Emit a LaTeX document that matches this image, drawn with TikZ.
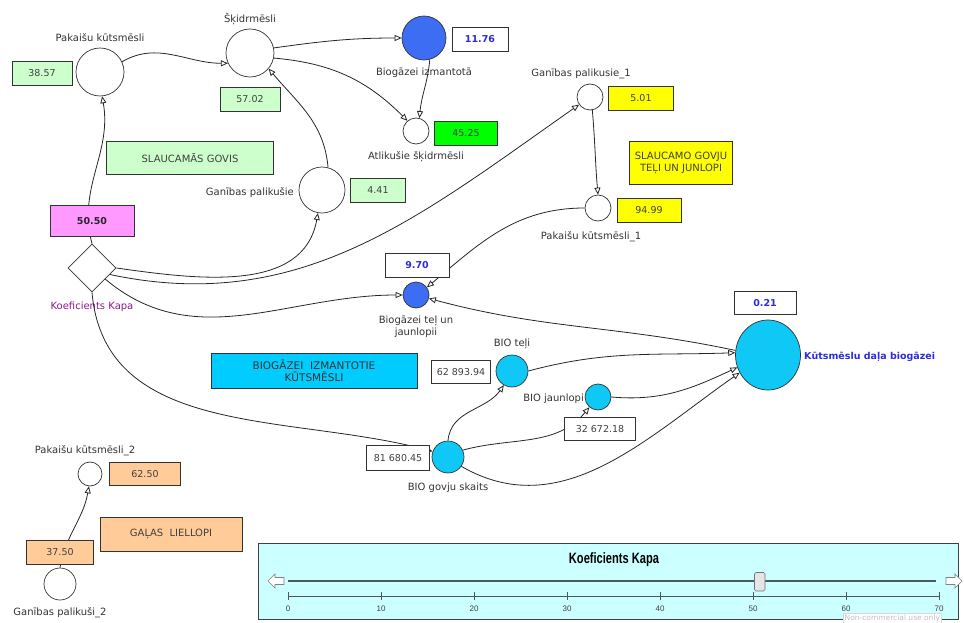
\documentclass[tikz,border=0pt]{standalone}
\usepackage{fontspec}
\setmainfont{DejaVu Sans}
\newfontfamily\panelfont{Liberation Sans}
\usepackage{tikz}
\usetikzlibrary{positioning,arrows.meta,shapes.geometric}
\definecolor{palegrn}{HTML}{CCFFCC}
\definecolor{limegrn}{HTML}{00FF00}
\definecolor{yel}{HTML}{FFFF00}
\definecolor{pinkbox}{HTML}{FF99FF}
\definecolor{peach}{HTML}{FFCC99}
\definecolor{cyanbox}{HTML}{00CCFF}
\definecolor{biocyan}{HTML}{10C8F5}
\definecolor{royal}{HTML}{3D6DF2}
\definecolor{valblue}{HTML}{2B2BE0}
\definecolor{kapapurple}{HTML}{8B1A8B}
\definecolor{panelbg}{HTML}{CCFFFF}
\definecolor{slidergray}{HTML}{4A5A5A}

\begin{document}
\begin{tikzpicture}[x=1pt,y=1pt,
	pool/.style={circle,draw=black!80,fill=white,inner sep=0pt,line width=0.7pt},
	valbox/.style={rectangle,draw=black!80,fill=white,minimum height=24pt,inner sep=1pt,line width=0.7pt,
		font=\fontsize{9.5}{11}\selectfont,text=black!75},
	bluebox/.style={valbox,font=\fontsize{9.5}{11}\selectfont\bfseries,text=valblue},
	lbl/.style={font=\fontsize{10}{12}\selectfont,text=black!80,inner sep=0pt},
	flow/.style={draw=black!85,line width=0.8pt,-{Triangle[open,length=7pt,width=6pt]}},
	link/.style={draw=black!85,line width=0.8pt}]
	\useasboundingbox (0,0) rectangle (964,-623);

	% slaucamas govis
	\node[pool,minimum size=48pt] (pk) at (100,-72) {};
	\node[lbl] (pkL) at (100,-38) {Pakaišu kūtsmēsli};
	\node[pool,minimum size=48pt] (sk) at (250,-53) {};
	\node[lbl] (skL) at (250,-19) {Šķidrmēsli};
	\node[pool,fill=royal,minimum size=44pt] (bi) at (424,-38) {};
	\node[lbl] (biL) at (424,-73) {Biogāzei izmantotā};
	\node[pool,minimum size=26pt] (at) at (416,-131) {};
	\node[lbl] (atL) at (416,-157) {Atlikušie šķidrmēsli};
	\node[pool,minimum size=46pt] (gp) at (322,-190) {};
	\node[lbl,anchor=east] (gpL) at (294,-193) {Ganības palikušie};
	\node[diamond,draw=black!80,fill=white,minimum width=48pt,minimum height=48pt,inner sep=0pt,line width=0.7pt] (kapa) at (92,-268) {};
	\node[lbl,text=kapapurple] (kapaL) at (92,-307) {Koeficients Kapa};

	% teli un jaunlopi
	\node[pool,minimum size=26pt] (gp1) at (590,-97) {};
	\node[lbl] (gp1L) at (581,-74) {Ganības palikusie\_1};
	\node[pool,minimum size=26pt] (pk1) at (598,-208) {};
	\node[lbl] (pk1L) at (591,-237) {Pakaišu kūtsmēsli\_1};
	\node[pool,fill=royal,minimum size=26pt] (bt) at (416,-295) {};
	\node[lbl,align=center] (btL) at (416,-327) {Biogāzei teļ un\\jaunlopii};

	% biogazei
	\node[ellipse,draw=black!80,fill=biocyan,minimum width=65pt,minimum height=70pt,inner sep=0pt,line width=0.7pt] (kd) at (768,-355) {};
	\node[lbl,anchor=west,text=valblue,font=\fontsize{9.5}{11}\selectfont\bfseries] (kdL) at (804,-357) {Kūtsmēslu daļa biogāzei};
	\node[pool,fill=biocyan,minimum size=32pt] (bti) at (512,-371) {};
	\node[lbl] (btiL) at (512,-344) {BIO teļi};
	\node[pool,fill=biocyan,minimum size=26pt] (bj) at (598,-397) {};
	\node[lbl,anchor=east] (bjL) at (584,-399) {BIO jaunlopi};
	\node[pool,fill=biocyan,minimum size=32pt] (bg) at (448,-457) {};
	\node[lbl] (bgL) at (448,-488) {BIO govju skaits};

	% galas liellopi
	\node[pool,minimum size=24pt] (pk2) at (90,-474) {};
	\node[lbl] (pk2L) at (85,-451) {Pakaišu kūtsmēsli\_2};
	\node[pool,minimum size=32pt] (gp2) at (60,-584) {};
	\node[lbl] (gp2L) at (60,-613) {Ganības palikuši\_2};

	% plusmas
	\draw[flow] (pk.25) to[out=30,in=180] (sk.205);
	\draw[flow] (sk.12) to[out=8,in=180] (bi.west);
	\draw[flow] (sk.-12) to[out=-5,in=135] (at.130);
	\draw[flow] (bi.-75) to[out=-95,in=85] (at.75);
	\draw[flow] (gp.75) to[out=95,in=-50] (sk.-40);
	\draw[flow] (kapa.north) to[out=105,in=-80] (pk.-85);
	\draw[flow] (kapa.east) to[out=-8,in=-100] (gp.-100);
	\draw[flow] (kapa.-20) to[out=-12,in=215] (gp1.215);
	\draw[flow] (kapa.-40) to[out=-40,in=180] (bt.west);
	\draw[flow] (kapa.south) to[out=-85,in=165] (bg.160);
	\draw[flow] (gp1.-80) to[out=-85,in=95] (pk1.north);
	\draw[flow] (pk1.west) to[out=180,in=40] (bt.35);
	\draw[flow] (kd.172) to[out=168,in=-15] (bt.-15);
	\draw[flow] (bti.east) to[out=15,in=182] (kd.176);
	\draw[flow] (bj.east) to[out=-5,in=205] (kd.202);
	\draw[flow] (bg.-35) to[out=-30,in=215] (kd.212);
	\draw[flow] (bg.north) to[out=85,in=-125] (bti.-120);
	\draw[flow] (bg.25) to[out=15,in=-130] (bj.-130);
	\draw[flow] (gp2.north) to[out=80,in=-100] (pk2.-95);

	% vertibas
	\node[valbox,fill=palegrn,minimum width=60pt] (pkV) at (42,-73) {38.57};
	\node[valbox,fill=palegrn,minimum width=60pt] (skV) at (250,-99) {57.02};
	\node[bluebox,minimum width=56pt] (biV) at (480,-39) {11.76};
	\node[valbox,fill=limegrn,minimum width=63pt] (atV) at (466,-133) {45.25};
	\node[valbox,fill=palegrn,minimum width=55pt] (gpV) at (378,-190) {4.41};
	\node[valbox,fill=pinkbox,minimum width=84pt,minimum height=31pt,font=\fontsize{9.5}{11}\selectfont\bfseries,text=black!85] (kapaV) at (92,-221) {50.50};
	\node[valbox,fill=yel,minimum width=65pt] (gp1V) at (641,-98) {5.01};
	\node[valbox,fill=yel,minimum width=64pt] (pk1V) at (649,-210) {94.99};
	\node[bluebox,minimum width=64pt] (btV) at (417,-265) {9.70};
	\node[bluebox,minimum width=62pt,minimum height=23pt] (kdV) at (765,-303) {0.21};
	\node[valbox,minimum width=59pt,minimum height=23pt] (btiV) at (461,-372) {62 893.94};
	\node[valbox,minimum width=71pt,minimum height=23pt] (bjV) at (600,-429) {32 672.18};
	\node[valbox,minimum width=63pt,minimum height=25pt] (bgV) at (398,-458) {81 680.45};
	\node[valbox,fill=peach,minimum width=71pt,minimum height=23pt] (pk2V) at (145,-474) {62.50};
	\node[valbox,fill=peach,minimum width=67pt] (gp2V) at (60,-552) {37.50};

	% virsraksti
	\node[valbox,fill=palegrn,minimum width=167pt,minimum height=33pt,font=\fontsize{10}{12}\selectfont] (sgT) at (190,-158) {SLAUCAMĀS GOVIS};
	\node[valbox,fill=yel,minimum width=103pt,minimum height=43pt,align=center,font=\fontsize{10}{12.5}\selectfont] (sjT) at (681,-163) {SLAUCAMO GOVJU\\TEĻI UN JUNLOPI};
	\node[valbox,fill=cyanbox,minimum width=206pt,minimum height=35pt,align=center,font=\fontsize{10.5}{12}\selectfont,text=black!80] (bzT) at (314,-371) {BIOGĀZEI\ \ IZMANTOTIE\\KŪTSMĒSLI};
	\node[valbox,fill=peach,minimum width=142pt,minimum height=34pt,font=\fontsize{10}{12}\selectfont] (glT) at (171,-534) {GAĻAS\ \ LIELLOPI};

	% slideris
	\draw[black!75,fill=panelbg,line width=0.8pt] (258,-543) rectangle (958,-619);
	\node[font=\panelfont\fontsize{15}{17}\selectfont\bfseries,xscale=0.74,transform shape] (sldT) at (614,-560) {Koeficients Kapa};
	\draw[slidergray,line width=1.6pt] (288,-581) -- (936,-581);
	\draw[black!50,fill=white,line width=0.6pt] (268,-581) -- (275,-574) -- (275,-577.5) -- (284,-577.5) -- (284,-584.5) -- (275,-584.5) -- (275,-588) -- cycle;
	\draw[black!50,fill=white,line width=0.6pt] (962,-581) -- (955,-574) -- (955,-577.5) -- (946,-577.5) -- (946,-584.5) -- (955,-584.5) -- (955,-588) -- cycle;
	\draw[black!55,fill=black!10,rounded corners=1.5pt,line width=0.6pt] (754.5,-572.5) rectangle (765,-591);
	\draw[slidergray,line width=1pt] (288,-596) -- (939,-596);
	\foreach \i in {0,...,7}{
		\draw[slidergray,line width=0.8pt] (288+93*\i,-592) -- (288+93*\i,-600);
		\node[font=\panelfont\fontsize{8}{9}\selectfont,text=black!75] (tick\i) at (288+93*\i,-609) {\number\numexpr10*\i\relax};
	}
	\node[anchor=north west,draw=black!15,fill=white,text=black!25,font=\fontsize{7.5}{9}\selectfont,inner sep=1.5pt] (wm) at (843,-613) {Non-commercial use only};
\end{tikzpicture}
\end{document}
